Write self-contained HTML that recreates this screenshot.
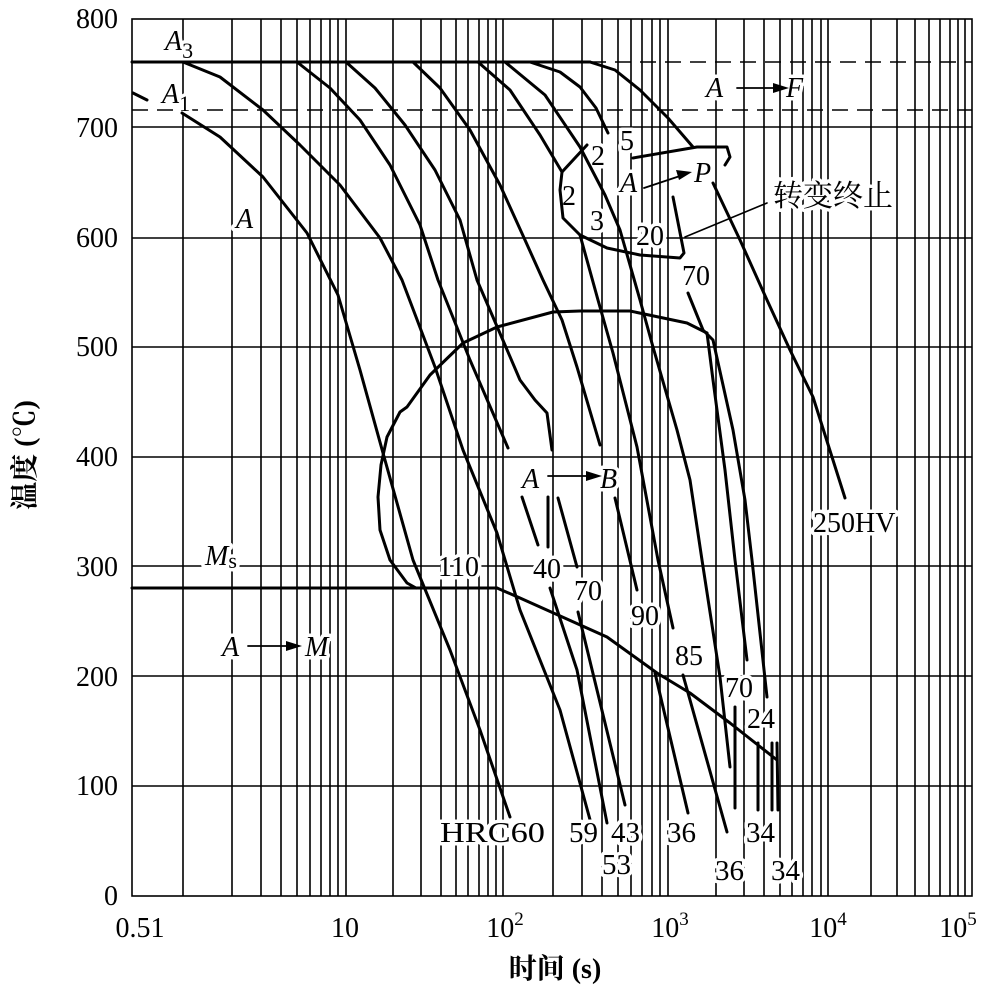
<!DOCTYPE html>
<html><head><meta charset="utf-8"><style>
html,body{margin:0;padding:0;background:#fff;}
svg{display:block;}
text{font-family:"Liberation Serif","Noto Serif CJK SC",serif;fill:#000;}
.lb{paint-order:stroke;stroke:#fff;stroke-width:7px;stroke-linejoin:round;}
</style></head><body>
<svg width="1000" height="992" viewBox="0 0 1000 992" xmlns="http://www.w3.org/2000/svg">
<g stroke="#000" stroke-width="1.6" fill="none">
<rect x="132" y="19" width="840" height="877"/>
<path d="M183 19V896M232 19V896M261 19V896M281 19V896M297 19V896M310 19V896M321 19V896M330 19V896M338 19V896M346 19V896
M393 19V896M421 19V896M441 19V896M456 19V896M468 19V896M479 19V896M488 19V896M496 19V896M503 19V896
M553 19V896M582 19V896M602 19V896M618 19V896M631 19V896M642 19V896M652 19V896M660 19V896M668 19V896
M716 19V896M744 19V896M764 19V896M780 19V896M792 19V896M803 19V896M812 19V896M821 19V896M828 19V896
M871 19V896M897 19V896M915 19V896M929 19V896M940 19V896M950 19V896M958 19V896M965 19V896"/>
<path d="M132 127H972M132 238H972M132 347H972M132 457H972M132 566H972M132 676H972M132 786H972"/>
<path d="M132 110H972M590 62H972" stroke-dasharray="16 9"/>
</g>
<g font-size="28">
<text x="165" y="50" font-style="italic" class="lb">A<tspan font-style="normal" font-size="22" dy="8">3</tspan></text>
<text x="162" y="103" font-style="italic" class="lb">A<tspan font-style="normal" font-size="22" dy="8">1</tspan></text>
<text x="236" y="228" font-style="italic" class="lb">A</text>
<text x="706" y="97" font-style="italic" class="lb">A</text>
<text x="786" y="97" font-style="italic" class="lb">F</text>
<text x="620" y="192" font-style="italic" class="lb">A</text>
<text x="694" y="182" font-style="italic" class="lb">P</text>
<text x="773" y="206" font-family="Liberation Serif,Noto Sans CJK SC,sans-serif" font-size="30" class="lb">转变终止</text>
<text x="591" y="165" class="lb">2</text>
<text x="620" y="150" class="lb">5</text>
<text x="562" y="205" class="lb">2</text>
<text x="590" y="230" class="lb">3</text>
<text x="636" y="245" class="lb">20</text>
<text x="682" y="285" class="lb">70</text>
<text x="522" y="488" font-style="italic" class="lb">A</text>
<text x="600" y="488" font-style="italic" class="lb">B</text>
<text x="813" y="532" class="lb">250HV</text>
<text x="205" y="565" font-style="italic" class="lb">M<tspan font-style="normal" font-size="22" dy="3">s</tspan></text>
<text x="222" y="656" font-style="italic" class="lb">A</text>
<text x="305" y="656" font-style="italic" class="lb">M</text>
<text x="438" y="576" class="lb">110</text>
<text x="533" y="578" class="lb">40</text>
<text x="574" y="600" class="lb">70</text>
<text x="631" y="625" class="lb">90</text>
<text x="675" y="665" class="lb">85</text>
<text x="725" y="697" class="lb">70</text>
<text x="747" y="728" class="lb">24</text>
</g>
<g stroke="#000" stroke-width="3" fill="none" stroke-linejoin="round" stroke-linecap="round">
<path d="M132 62H590"/>
<path d="M132 588H497"/>
<path d="M497 588L520 598L607 637L657 673L690 693L730 723L777 760"/>
<path d="M133 93L147 100"/>
<path d="M182 113L220 137L263 177L307 233L338 295L360 370L383 453L413 560L450 650L480 730L510 817"/>
<path d="M183 62L220 77L263 110L300 145L340 185L380 238L402 280L435 367L463 450L497 533L520 610L560 710L592 827"/>
<path d="M297 62L330 88L360 120L390 165L420 225L438 280L470 360L508 448"/>
<path d="M346 62L375 88L405 125L435 170L460 220L477 280L505 345L520 380L535 400L547 413L552 450"/>
<path d="M413 62L440 88L470 130L500 185L525 240L543 280L562 320L577 367L600 445"/>
<path d="M478 62L510 90L540 135L562 172"/>
<path d="M580 235L598 300L613 353L637 447L658 560L673 628"/>
<path d="M683 675L727 832"/>
<path d="M505 62L545 95L580 147L605 195L620 230L640 300L653 347L677 430L690 480L702 560L720 677L730 767"/>
<path d="M530 62L560 72L580 87L596 108L608 133"/>
<path d="M590 62L615 70L640 90L668 118L693 147"/>
<path d="M562 172L587 145"/>
<path d="M562 172L560 190L563 218L580 235L607 248L640 255L680 258L684 253L673 197"/>
<path d="M633 158L697 147L727 147L730 157L725 165"/>
<path d="M713 183L740 240L767 300L790 350L813 397L845 498"/>
<path d="M416 588L407 583L390 560L380 530L378 497L381 465L387 437L400 412L407 407L430 375L463 343L497 327L553 312L580 311L630 311L687 323L707 333"/>
<path d="M688 293L703 330L713 340L733 430L745 500L752 560L767 697"/>
<path d="M707 333L713 380L725 470L735 560L747 660"/>
<path d="M522 497L538 545"/><path d="M548 497L548 547"/><path d="M558 498L577 567"/>
<path d="M550 588L577 670L607 823"/>
<path d="M578 612L625 805"/>
<path d="M615 498L637 590"/><path d="M655 673L688 813"/>
<path d="M735 707L735 808"/><path d="M758 743L758 810"/><path d="M772 743L772 810"/><path d="M777 743L778 810"/>
<path d="M685 237L767 203" stroke-width="1.6"/>
<path d="M248 646H288M737 88H775M548 476H588M644 188L680 176" stroke-width="1.8"/>
</g>
<g fill="#000">
<polygon points="286,641 302,646 286,651"/>
<polygon points="773,83 789,88 773,93"/>
<polygon points="586,471 602,476 586,481"/>
<polygon points="676,170 692,172 679,180"/>
</g>
<g font-size="28">
<text x="118" y="28" text-anchor="end">800</text>
<text x="118" y="137" text-anchor="end">700</text>
<text x="118" y="247" text-anchor="end">600</text>
<text x="118" y="356" text-anchor="end">500</text>
<text x="118" y="466" text-anchor="end">400</text>
<text x="118" y="576" text-anchor="end">300</text>
<text x="118" y="686" text-anchor="end">200</text>
<text x="118" y="795" text-anchor="end">100</text>
<text x="118" y="905" text-anchor="end">0</text>
<text x="140" y="937" text-anchor="middle">0.51</text>
<text x="345" y="937" text-anchor="middle">10</text>
<text x="505" y="937" text-anchor="middle">10<tspan font-size="19" dy="-12">2</tspan></text>
<text x="670" y="937" text-anchor="middle">10<tspan font-size="19" dy="-12">3</tspan></text>
<text x="828" y="937" text-anchor="middle">10<tspan font-size="19" dy="-12">4</tspan></text>
<text x="958" y="937" text-anchor="middle">10<tspan font-size="19" dy="-12">5</tspan></text>
<text x="555" y="978" text-anchor="middle" font-weight="bold" font-family="Liberation Serif,Noto Sans CJK SC,sans-serif">时间 (s)</text>
<text transform="translate(34,455) rotate(-90)" text-anchor="middle" font-weight="bold" font-family="Liberation Serif,Noto Sans CJK SC,sans-serif">温度 (℃)</text>
</g>
<g font-size="29">
<text x="440" y="842" class="lb" textLength="105" lengthAdjust="spacingAndGlyphs">HRC60</text>
<text x="569" y="842" class="lb">59</text>
<text x="611" y="842" class="lb">43</text>
<text x="602" y="874" class="lb">53</text>
<text x="667" y="842" class="lb">36</text>
<text x="715" y="880" class="lb">36</text>
<text x="746" y="842" class="lb">34</text>
<text x="771" y="880" class="lb">34</text>
</g>
</svg>
</body></html>
